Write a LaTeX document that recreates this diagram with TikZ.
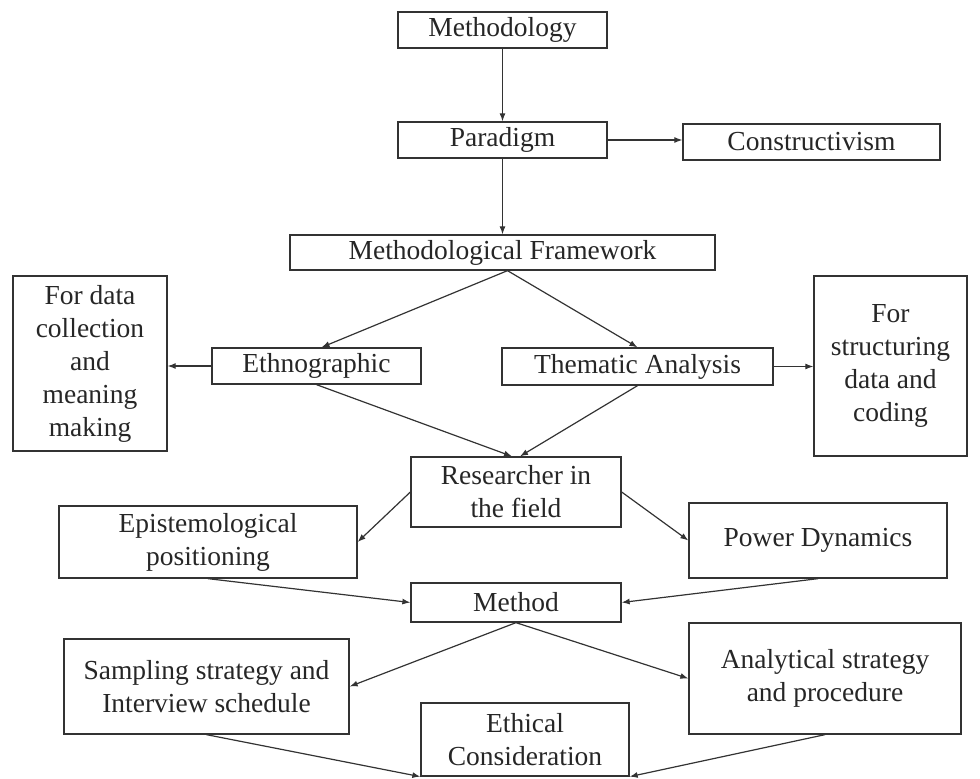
\documentclass[tikz,border=0pt]{standalone}
\usepackage{fontspec}
\setmainfont{Liberation Serif}
\usetikzlibrary{arrows.meta}
\begin{document}
\begin{tikzpicture}[x=1pt,y=-1pt,
  box/.style={draw=black!80,line width=1.3pt,inner sep=0pt,align=center,
    font=\fontsize{27.5}{33}\selectfont,text=black!85},
  conn/.style={draw=black!80,line width=1.2pt,-{Latex[length=8pt,width=6pt]}}]
\useasboundingbox (0,0) rectangle (980,779);
\node[box,minimum width=209pt,minimum height=36pt] (meth) at (502.5,30) {Methodology};
\node[box,minimum width=209pt,minimum height=36pt] (para) at (502.5,140) {Paradigm};
\node[box,minimum width=257pt,minimum height=36pt] (cons) at (811.5,142) {Constructivism};
\node[box,minimum width=425pt,minimum height=35pt] (mf) at (502.5,252.5) {Methodological Framework};
\node[box,minimum width=154pt,minimum height=175pt] (dcol) at (90,363.5) {For data\\collection\\and\\meaning\\making};
\node[box,minimum width=209pt,minimum height=36pt] (eth) at (316.5,366) {Ethnographic};
\node[box,minimum width=271pt,minimum height=37pt] (them) at (637.5,366.5) {Thematic Analysis};
\node[box,minimum width=153pt,minimum height=180pt] (struct) at (890.5,366) {For\\structuring\\data and\\coding};
\node[box,minimum width=210pt,minimum height=70pt] (res) at (516,492) {Researcher in\\the field};
\node[box,minimum width=298pt,minimum height=72pt] (epi) at (208,542) {Epistemological\\positioning};
\node[box,minimum width=258pt,minimum height=75pt] (pow) at (818,540.5) {Power Dynamics};
\node[box,minimum width=210pt,minimum height=39pt] (method) at (516,602.5) {Method};
\node[box,minimum width=285pt,minimum height=95pt] (samp) at (206.5,686.5) {Sampling strategy and\\Interview schedule};
\node[box,minimum width=272pt,minimum height=111pt] (ana) at (825,678.5) {Analytical strategy\\and procedure};
\node[box,minimum width=208pt,minimum height=73pt] (ethc) at (525,739.5) {Ethical\\Consideration};

\draw[conn] (meth.south) -- (para.north);
\draw[conn] (para.east) -- (para.east -| cons.west);
\draw[conn] (para.south) -- (mf.north);
\draw[conn] ([xshift=5pt]mf.south) -- ([xshift=5pt]eth.north);
\draw[conn] ([xshift=5pt]mf.south) -- (them.north);
\draw[conn] (eth.west) -- (eth.west -| dcol.east);
\draw[conn] (them.east) -- (them.east -| struct.west);
\draw[conn] (eth.south) -- ([xshift=-4pt]res.north);
\draw[conn] (them.south) -- ([xshift=4pt]res.north);
\draw[conn] (res.west) -- (epi.east);
\draw[conn] (res.east) -- (pow.west);
\draw[conn] (epi.south) -- (method.west);
\draw[conn] (pow.south) -- (method.east);
\draw[conn] (method.south) -- (samp.east);
\draw[conn] (method.south) -- (ana.west);
\draw[conn] (samp.south) -- (ethc.south west);
\draw[conn] (ana.south) -- (ethc.south east);
\end{tikzpicture}
\end{document}
